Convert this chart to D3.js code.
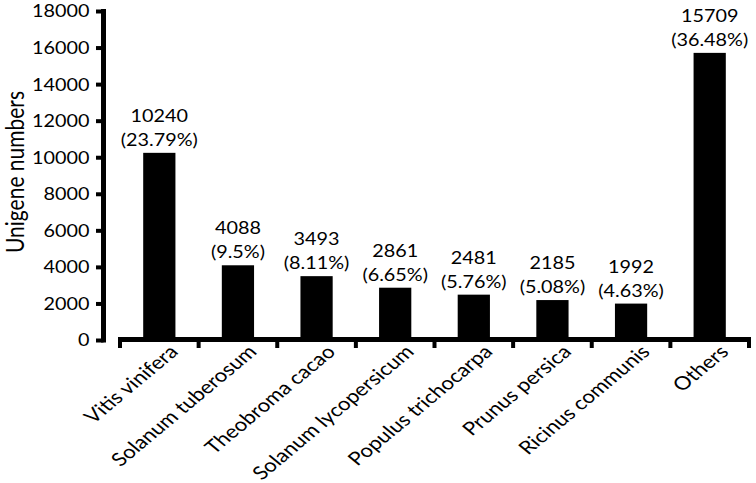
<!DOCTYPE html>
<html>
<head>
<meta charset="utf-8">
<script src="https://cdn.jsdelivr.net/npm/d3@7"></script>
<style>
  body { margin: 0; background: #fff; }
  text { font-family: Lato, "Open Sans", sans-serif; fill: #000; }
</style>
</head>
<body>
<div id="chart"></div>
<script>
// species and unigene counts
var species = ['Vitis vinifera', 'Solanum tuberosum', 'Theobroma cacao', 'Solanum lycopersicum',
    'Populus trichocarpa', 'Prunus persica', 'Ricinus communis', 'Others'];
var counts = [10240, 4088, 3493, 2861, 2481, 2185, 1992, 15709];
var percents = ['23.79%', '9.5%', '8.11%', '6.65%', '5.76%', '5.08%', '4.63%', '36.48%'];
var yTicks = [0, 2000, 4000, 6000, 8000, 10000, 12000, 14000, 16000, 18000];

var width = 756,
    height = 483;
// the figure text is a bit wider than tall
var stretch = 'scale(1.2,1)';

var svg = d3.select('#chart').append('svg')
    .attr('width', width)
    .attr('height', height);

var y = d3.scaleLinear()
    .domain([0, 18000])
    .range([340, 11]);

var x = d3.scaleBand()
    .domain(species)
    .range([120, 749])
    .paddingInner(0.59)
    .paddingOuter(0.295);

var step = x.step();
var edges = d3.range(species.length + 1).map(function (i) { return 120 + i * step; });

// bars
svg.selectAll('rect.bar')
    .data(species)
    .enter()
    .append('rect')
    .attr('class', 'bar')
    .attr('x', function (d) { return x(d); })
    .attr('width', x.bandwidth())
    .attr('y', function (d, i) { return y(counts[i]); })
    .attr('height', function (d, i) { return y(0) - y(counts[i]); })
    .attr('fill', '#000');

// y axis
var yAxis = d3.axisLeft(y)
    .tickValues(yTicks)
    .tickFormat(d3.format('d'))
    .tickSize(7.5)
    .tickSizeOuter(0);

var gy = svg.append('g')
    .attr('transform', 'translate(103.5,0)')
    .call(yAxis);
gy.select('.domain')
    .attr('stroke-width', 5)
    .attr('d', 'M0,' + (y(0) + 2.5) + 'V' + (y(18000) - 2));
gy.selectAll('.tick line')
    .attr('stroke-width', 4);
gy.selectAll('.tick text')
    .attr('x', null)
    .attr('dy', '0.36em')
    .attr('transform', 'translate(-14,0) ' + stretch)
    .style('font-size', '16.5px')
    .style('font-family', 'Lato, "Open Sans", sans-serif');

// y title
svg.append('text')
    .attr('transform', 'translate(24,172) ' + stretch + ' rotate(-90)')
    .attr('text-anchor', 'middle')
    .style('font-size', '21px')
    .text('Unigene numbers');

// x axis, drawn apart from the y axis
svg.append('line')
    .attr('x1', 118).attr('x2', 751)
    .attr('y1', 339.5).attr('y2', 339.5)
    .attr('stroke', '#000')
    .attr('stroke-width', 5);

svg.selectAll('line.xtick')
    .data(edges)
    .enter()
    .append('line')
    .attr('class', 'xtick')
    .attr('x1', function (d) { return d; })
    .attr('x2', function (d) { return d; })
    .attr('y1', 339.5)
    .attr('y2', 348)
    .attr('stroke', '#000')
    .attr('stroke-width', 4);

// category labels
svg.selectAll('text.xlab')
    .data(species)
    .enter()
    .append('text')
    .attr('class', 'xlab')
    .attr('text-anchor', 'end')
    .attr('transform', function (d) {
        return 'translate(' + (x(d) + x.bandwidth() / 2 + 20) + ',353) ' + stretch + ' rotate(-45)';
    })
    .style('font-size', '18.5px')
    .text(function (d) { return d; });

// value labels
var lab = svg.selectAll('g.vlab')
    .data(species)
    .enter()
    .append('g')
    .attr('class', 'vlab')
    .attr('transform', function (d, i) {
        return 'translate(' + (x(d) + x.bandwidth() / 2) + ',' + y(counts[i]) + ')';
    });

lab.append('text')
    .attr('text-anchor', 'middle')
    .attr('transform', 'translate(0,-31) ' + stretch)
    .style('font-size', '16.5px')
    .text(function (d, i) { return counts[i]; });

lab.append('text')
    .attr('text-anchor', 'middle')
    .attr('transform', 'translate(0,-7) ' + stretch)
    .style('font-size', '16.5px')
    .text(function (d, i) { return '(' + percents[i] + ')'; });
</script>
</body>
</html>
